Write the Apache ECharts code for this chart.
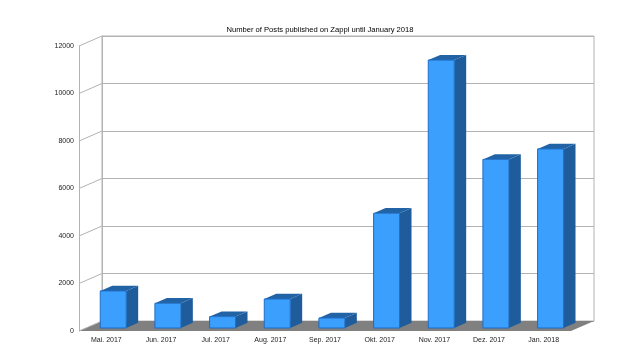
<!DOCTYPE html>
<html><head><meta charset="utf-8">
<script src="https://cdn.jsdelivr.net/npm/echarts@6/dist/echarts.min.js"></script>
<style>html,body{margin:0;padding:0;background:#fff}#c{width:640px;height:360px}</style>
</head><body><div id="c"></div>
<script>
const categories = ['Mai. 2017','Jun. 2017','Jul. 2017','Aug. 2017','Sep. 2017','Okt. 2017','Nov. 2017','Dez. 2017','Jan. 2018'];
const posts = [1560, 1040, 480, 1220, 420, 4830, 11280, 7100, 7540];
const yTicks = [0, 2000, 4000, 6000, 8000, 10000, 12000];
const titleText = 'Number of Posts published on Zappl until January 2018';

const DX = 23, DY = -10;          // depth of the 3D floor
const BAR_F = 0.3, BAR_D = 0.52;  // bar front position / depth as fraction of floor depth
const GRID_C = '#b3b3b3';
const FONT = 'Liberation Sans';

const chart = echarts.init(document.getElementById('c'), null, {renderer:'canvas'});
chart.setOption({
  animation: false,
  backgroundColor: '#fff',
  title: {text: titleText, left: 'center', top: 21,
    textStyle: {fontFamily: FONT, fontSize: 7.6, fontWeight: 'normal', color: '#000'}},
  grid: [
    {left: 102, top: 36, width: 492, height: 285, show: true, borderColor: GRID_C, borderWidth: 1, backgroundColor: '#fff'},
    {left: 79, top: 46, width: 492, height: 285}
  ],
  xAxis: [
    {gridIndex: 0, type: 'category', data: categories, show: false},
    {gridIndex: 1, type: 'category', data: categories,
      axisLine: {show: false}, axisTick: {show: false},
      axisLabel: {fontFamily: FONT, fontSize: 7, color: '#222', margin: 6, interval: 0}}
  ],
  yAxis: [
    {gridIndex: 0, type: 'value', min: 0, max: yTicks[yTicks.length-1], interval: yTicks[1]-yTicks[0],
      axisLabel: {show: false}, axisTick: {show: false},
      axisLine: {show: true, lineStyle: {color: GRID_C}},
      splitLine: {show: true, lineStyle: {color: GRID_C, width: 1}}},
    {gridIndex: 1, type: 'value', min: 0, max: yTicks[yTicks.length-1], interval: yTicks[1]-yTicks[0],
      axisLabel: {fontFamily: FONT, fontSize: 7, color: '#222', margin: 5, formatter: v => String(v)},
      axisTick: {show: false},
      axisLine: {show: true, lineStyle: {color: GRID_C}},
      splitLine: {show: false}}
  ],
  series: [
    { // floor
      type: 'custom', xAxisIndex: 1, yAxisIndex: 1, z: 1, silent: true,
      data: [[0, 0]],
      renderItem: function(params, api){
        const cs = params.coordSys;
        const yb = api.coord([0, 0])[1];
        const xl = cs.x, xr = cs.x + cs.width;
        return {type: 'polygon', shape: {points: [[xl, yb], [xr, yb], [xr+DX, yb+DY], [xl+DX, yb+DY]]},
          style: {fill: '#808080'}};
      }
    },
    { // left wall slanted tick lines
      type: 'custom', xAxisIndex: 1, yAxisIndex: 1, z: 1, silent: true,
      data: yTicks.map(v => [0, v]),
      renderItem: function(params, api){
        const cs = params.coordSys;
        const y = api.coord([0, api.value(1)])[1];
        return {type: 'line', shape: {x1: cs.x, y1: y, x2: cs.x+DX, y2: y+DY},
          style: {stroke: GRID_C, lineWidth: 1}};
      }
    },
    { // 3D bars
      type: 'custom', xAxisIndex: 1, yAxisIndex: 1, z: 3,
      data: posts.map((v, i) => [i, v]),
      encode: {x: 0, y: 1},
      renderItem: function(params, api){
        const i = api.value(0), v = api.value(1);
        const top = api.coord([i, v]);
        const base = api.coord([i, 0]);
        const band = api.size([1, 0])[0];
        const w = band * 0.475;
        const ox = DX*BAR_F, oy = DY*BAR_F;
        const x0 = top[0] - w/2 + ox, x1 = x0 + w;
        const yT = top[1] + oy, yB = base[1] + oy;
        const ddx = DX*BAR_D, ddy = DY*BAR_D;
        return {type: 'group', children: [
          {type: 'polygon', shape: {points: [[x1, yB], [x1+ddx, yB+ddy], [x1+ddx, yT+ddy], [x1, yT]]},
            style: {fill: '#1f5c9c'}},
          {type: 'polygon', shape: {points: [[x0, yT], [x1, yT], [x1+ddx, yT+ddy], [x0+ddx, yT+ddy]]},
            style: {fill: '#2263a6'}},
          {type: 'rect', shape: {x: x0, y: yT, width: w, height: yB - yT},
            style: {fill: '#3a9ffd', stroke: '#1f6dc4', lineWidth: 1}}
        ]};
      }
    }
  ]
});
</script></body></html>
